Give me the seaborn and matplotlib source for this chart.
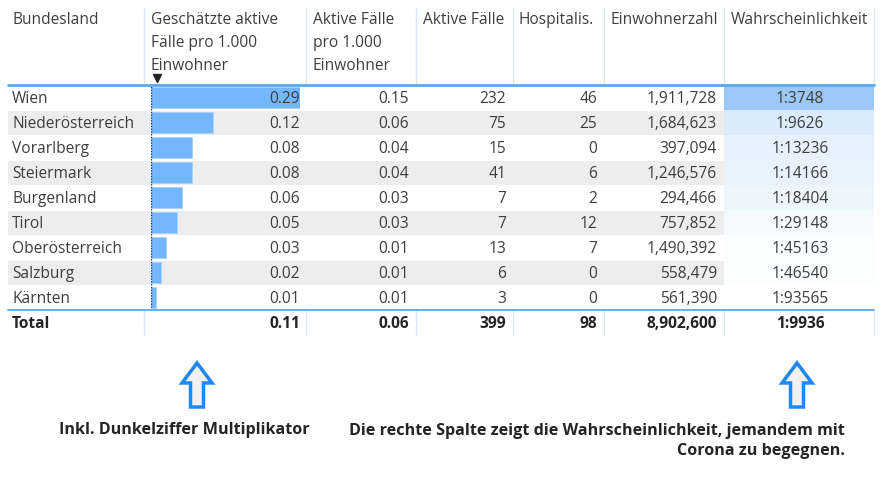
import matplotlib
matplotlib.use("Agg")
import matplotlib.pyplot as plt
import seaborn as sns
import pandas as pd
import numpy as np
from matplotlib.patches import Rectangle, FancyArrow

# ---------------- data ----------------
bundesland = ["Wien", "Niederösterreich", "Vorarlberg", "Steiermark", "Burgenland",
              "Tirol", "Oberösterreich", "Salzburg", "Kärnten"]
geschaetzt_pro_1000 = [0.29, 0.12, 0.08, 0.08, 0.06, 0.05, 0.03, 0.02, 0.01]
aktiv_pro_1000 = [0.15, 0.06, 0.04, 0.04, 0.03, 0.03, 0.01, 0.01, 0.01]
aktive_faelle = [232, 75, 15, 41, 7, 7, 13, 6, 3]
hospitalis = [46, 25, 0, 6, 2, 12, 7, 0, 0]
einwohnerzahl = [1911728, 1684623, 397094, 1246576, 294466, 757852, 1490392, 558479, 561390]
wahrscheinlichkeit_n = [3748, 9626, 13236, 14166, 18404, 29148, 45163, 46540, 93565]

total_label = "Total"
total_geschaetzt = 0.11
total_aktiv_pro = 0.06
total_aktive = 399
total_hosp = 98
total_einw = 8902600
total_wahr_n = 9936

headers = ["Bundesland", "Geschätzte aktive\nFälle pro 1.000\nEinwohner",
           "Aktive Fälle\npro 1.000\nEinwohner", "Aktive Fälle", "Hospitalis.",
           "Einwohnerzahl", "Wahrscheinlichkeit"]
note_left = "Inkl. Dunkelziffer Multiplikator"
note_right = "Die rechte Spalte zeigt die Wahrscheinlichkeit, jemandem mit\nCorona zu begegnen."

df = pd.DataFrame({"Bundesland": bundesland, "Geschaetzt": geschaetzt_pro_1000})

# ---------------- layout (pixels) ----------------
W, H = 891, 478
sns.set_theme(style="white")
plt.rcParams["font.family"] = ["Open Sans", "DejaVu Sans"]

fig = plt.figure(figsize=(W / 100, H / 100), dpi=100)

def px_axes(x0, y0, x1, y1, z):
    a = fig.add_axes([x0 / W, 1 - y1 / H, (x1 - x0) / W, (y1 - y0) / H])
    a.set_zorder(z)
    return a

# background layer
bg = px_axes(0, 0, W, H, 0)
bg.set_xlim(0, W); bg.set_ylim(H, 0); bg.axis("off")

left, right = 8, 874
head_top, head_bot = 8, 85
row_h = 25
n = len(bundesland)
body_bot = head_bot + n * row_h
total_bot = body_bot + 25
col_sep = [144, 306, 416, 513, 604, 724, 874]

band = "#EEEDED"
for i in range(n):
    y0 = head_bot + i * row_h
    if i % 2 == 1:
        bg.add_patch(Rectangle((left, y0 + 0.5), 724 - left, row_h - 1, color=band, lw=0))
# probability colour scale (white -> blue)
p = 1 / np.array(wahrscheinlichkeit_n, dtype=float)
frac = (p - p.min()) / (p.max() - p.min())
c_max = np.array([155, 200, 246]) / 255
for i in range(n):
    y0 = head_bot + i * row_h
    col = (1 - frac[i]) * np.ones(3) + frac[i] * c_max
    bg.add_patch(Rectangle((724, y0), 874 - 724, row_h, color=tuple(col), lw=0))

# bars layer
bar_x0, bar_x1 = 151, 300
axb = px_axes(bar_x0, head_bot, bar_x1, body_bot, 1)
axb.patch.set_alpha(0)
sns.barplot(data=df, x="Geschaetzt", y="Bundesland", orient="h", ax=axb,
            color="#74B7FF", saturation=1, width=0.84, edgecolor="#A8D0FA", linewidth=0.6)
axb.set_xlim(0, max(geschaetzt_pro_1000))
axb.set_ylim(n - 0.5, -0.5)
axb.axis("off")
axb.axvline(0, color="#333333", lw=1.0, ls=(0, (1, 1)))

# text layer
tx = px_axes(0, 0, W, H, 2)
tx.patch.set_alpha(0)
tx.set_xlim(0, W); tx.set_ylim(H, 0); tx.axis("off")

# separators
sep_col = "#DCE6F0"
for x in col_sep:
    tx.plot([x, x], [head_top, head_bot], color=sep_col, lw=1)
    tx.plot([x, x], [body_bot, total_bot], color=sep_col, lw=1)
tx.plot([left, right], [head_bot, head_bot], color="#5AA8EE", lw=2)
tx.plot([left, right], [body_bot, body_bot], color="#5AA8EE", lw=1.3)

fs = 11.2
txt_col = "#3E3E3E"
head_x = [12, 151, 313, 423, 519, 611, 731]
for hx, h in zip(head_x, headers):
    tx.text(hx, 12, h, ha="left", va="top", fontsize=fs, color=txt_col, linespacing=1.6)
# sort arrow
tx.plot([157], [78], marker="v", color="#222222", markersize=5.5)

right_x = [300, 409, 506, 597, 717]
center_wahr = 800
for i in range(n):
    yc = head_bot + i * row_h + row_h / 2 + 1.5
    tx.text(12, yc, bundesland[i], ha="left", va="center", fontsize=fs, color=txt_col)
    vals = [f"{geschaetzt_pro_1000[i]:.2f}", f"{aktiv_pro_1000[i]:.2f}", f"{aktive_faelle[i]}",
            f"{hospitalis[i]}", f"{einwohnerzahl[i]:,}"]
    for rx, v in zip(right_x, vals):
        tx.text(rx, yc, v, ha="right", va="center", fontsize=fs, color=txt_col)
    tx.text(center_wahr, yc, f"1:{wahrscheinlichkeit_n[i]}", ha="center", va="center",
            fontsize=fs, color=txt_col)

# total row
yc = body_bot + 13.5
tcol = "#252423"
tx.text(12, yc, total_label, ha="left", va="center", fontsize=fs, color=tcol, fontweight="bold")
tvals = [f"{total_geschaetzt:.2f}", f"{total_aktiv_pro:.2f}", f"{total_aktive}",
         f"{total_hosp}", f"{total_einw:,}"]
for rx, v in zip(right_x, tvals):
    tx.text(rx, yc, v, ha="right", va="center", fontsize=fs, color=tcol, fontweight="bold")
tx.text(center_wahr, yc, f"1:{total_wahr_n}", ha="center", va="center", fontsize=fs,
        color=tcol, fontweight="bold")

# arrows
for ax_x in [197, 797]:
    tx.add_patch(FancyArrow(ax_x, 407, 0, -44, width=13, head_width=30, head_length=20,
                            length_includes_head=True, fc="#F0F0F0", ec="#1E88F0", lw=2.5))

nfs = 11.6
tx.text(184, 430, note_left, ha="center", va="center", fontsize=nfs, color=tcol,
        fontweight="bold")
tx.text(845, 441, note_right, ha="right", va="center", fontsize=nfs, color=tcol,
        fontweight="bold", linespacing=1.36)

fig.savefig("out.png", dpi=100)
